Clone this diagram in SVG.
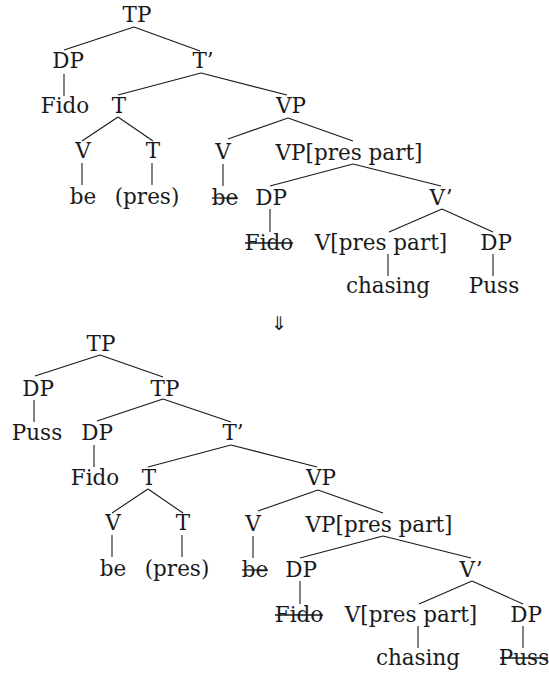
<svg xmlns="http://www.w3.org/2000/svg" width="549" height="674" viewBox="0 0 549 674">
<style>
text{font-family:"DejaVu Serif","Liberation Serif",serif;font-size:21.5px;fill:#1a1a1a;text-anchor:middle}
.c line{stroke:#1a1a1a;stroke-width:1.1}
.s{stroke:#1a1a1a;stroke-width:1.3}
.arr{font-family:"DejaVu Sans",sans-serif;font-size:19px}
</style>
<rect width="549" height="674" fill="#fff"/>
<g id="connectors" class="c">
<line x1="134" y1="27" x2="64" y2="50"/>
<line x1="134" y1="27" x2="200" y2="51"/>
<line x1="64" y1="74" x2="64" y2="96"/>
<line x1="201" y1="73" x2="118" y2="95"/>
<line x1="201" y1="73" x2="287" y2="95"/>
<line x1="118" y1="117" x2="82" y2="141"/>
<line x1="118" y1="117" x2="153" y2="141"/>
<line x1="82" y1="163" x2="82" y2="185"/>
<line x1="152" y1="163" x2="152" y2="185"/>
<line x1="288" y1="118" x2="228" y2="139"/>
<line x1="288" y1="118" x2="353" y2="141"/>
<line x1="223" y1="164" x2="223" y2="186"/>
<line x1="353" y1="164" x2="270" y2="186"/>
<line x1="353" y1="164" x2="441" y2="186"/>
<line x1="270" y1="209" x2="270" y2="232"/>
<line x1="442" y1="209" x2="389" y2="232"/>
<line x1="442" y1="209" x2="493" y2="232"/>
<line x1="388" y1="254" x2="388" y2="276"/>
<line x1="493" y1="254" x2="493" y2="276"/>
<line x1="100" y1="355" x2="35" y2="376"/>
<line x1="100" y1="355" x2="163" y2="377"/>
<line x1="34" y1="400" x2="34" y2="422"/>
<line x1="163" y1="399" x2="97" y2="421"/>
<line x1="163" y1="399" x2="231" y2="422"/>
<line x1="94" y1="445" x2="94" y2="467"/>
<line x1="231" y1="445" x2="148" y2="467"/>
<line x1="231" y1="445" x2="317" y2="467"/>
<line x1="148" y1="489" x2="112" y2="513"/>
<line x1="148" y1="489" x2="183" y2="513"/>
<line x1="112" y1="535" x2="112" y2="557"/>
<line x1="182" y1="535" x2="182" y2="557"/>
<line x1="318" y1="490" x2="258" y2="511"/>
<line x1="318" y1="490" x2="383" y2="513"/>
<line x1="253" y1="536" x2="253" y2="558"/>
<line x1="383" y1="536" x2="300" y2="558"/>
<line x1="383" y1="536" x2="471" y2="558"/>
<line x1="300" y1="581" x2="300" y2="604"/>
<line x1="472" y1="581" x2="419" y2="604"/>
<line x1="472" y1="581" x2="523" y2="604"/>
<line x1="418" y1="626" x2="418" y2="648"/>
<line x1="523" y1="626" x2="523" y2="648"/>
</g>
<g id="t1-TP"><text x="137" y="22">TP</text></g>
<g id="t1-DP"><text x="68" y="68">DP</text></g>
<g id="t1-Tbar"><text x="203" y="68">T’</text></g>
<g id="t1-Fido"><text x="65" y="113">Fido</text></g>
<g id="t1-T"><text x="119" y="113">T</text></g>
<g id="t1-VP"><text x="291" y="113">VP</text></g>
<g id="t1-V1"><text x="83" y="158">V</text></g>
<g id="t1-T2"><text x="153" y="158">T</text></g>
<g id="t1-V2"><text x="223" y="159">V</text></g>
<g id="t1-VPpp"><text x="349" y="160">VP[pres part]</text></g>
<g id="t1-be1"><text x="83" y="204">be</text></g>
<g id="t1-pres"><text x="147" y="204">(pres)</text></g>
<g id="t1-be2"><text x="225" y="205">be</text><line class="s" x1="212" y1="198" x2="238" y2="198"/></g>
<g id="t1-DP2"><text x="271" y="205">DP</text></g>
<g id="t1-Vbar"><text x="441" y="205">V’</text></g>
<g id="t1-Fido2"><text x="269" y="250">Fido</text><line class="s" x1="245" y1="243" x2="293" y2="243"/></g>
<g id="t1-Vpp"><text x="381" y="250">V[pres part]</text></g>
<g id="t1-DP3"><text x="496" y="250">DP</text></g>
<g id="t1-chasing"><text x="388" y="293">chasing</text></g>
<g id="t1-Puss"><text x="494" y="293">Puss</text></g>
<g id="arrow"><text class="arr" x="279" y="330">⇓</text></g>
<g id="t2-TP"><text x="101" y="351">TP</text></g>
<g id="t2-DP"><text x="38" y="396">DP</text></g>
<g id="t2-TP2"><text x="165" y="396">TP</text></g>
<g id="t2-Puss"><text x="37" y="440">Puss</text></g>
<g id="t2-DP2"><text x="97" y="440">DP</text></g>
<g id="t2-Tbar"><text x="233" y="440">T’</text></g>
<g id="t2-Fido"><text x="95" y="485">Fido</text></g>
<g id="t2-T"><text x="149" y="485">T</text></g>
<g id="t2-VP"><text x="321" y="485">VP</text></g>
<g id="t2-V1"><text x="113" y="530">V</text></g>
<g id="t2-T2"><text x="183" y="530">T</text></g>
<g id="t2-V2"><text x="253" y="531">V</text></g>
<g id="t2-VPpp"><text x="379" y="532">VP[pres part]</text></g>
<g id="t2-be1"><text x="113" y="576">be</text></g>
<g id="t2-pres"><text x="177" y="576">(pres)</text></g>
<g id="t2-be2"><text x="255" y="577">be</text><line class="s" x1="242" y1="570" x2="268" y2="570"/></g>
<g id="t2-DP3"><text x="301" y="577">DP</text></g>
<g id="t2-Vbar"><text x="471" y="577">V’</text></g>
<g id="t2-Fido2"><text x="299" y="622">Fido</text><line class="s" x1="275" y1="615" x2="323" y2="615"/></g>
<g id="t2-Vpp"><text x="411" y="622">V[pres part]</text></g>
<g id="t2-DP4"><text x="526" y="622">DP</text></g>
<g id="t2-chasing"><text x="418" y="665">chasing</text></g>
<g id="t2-Puss"><text x="524" y="665">Puss</text><line class="s" x1="500" y1="658" x2="548" y2="658"/></g>
</svg>
